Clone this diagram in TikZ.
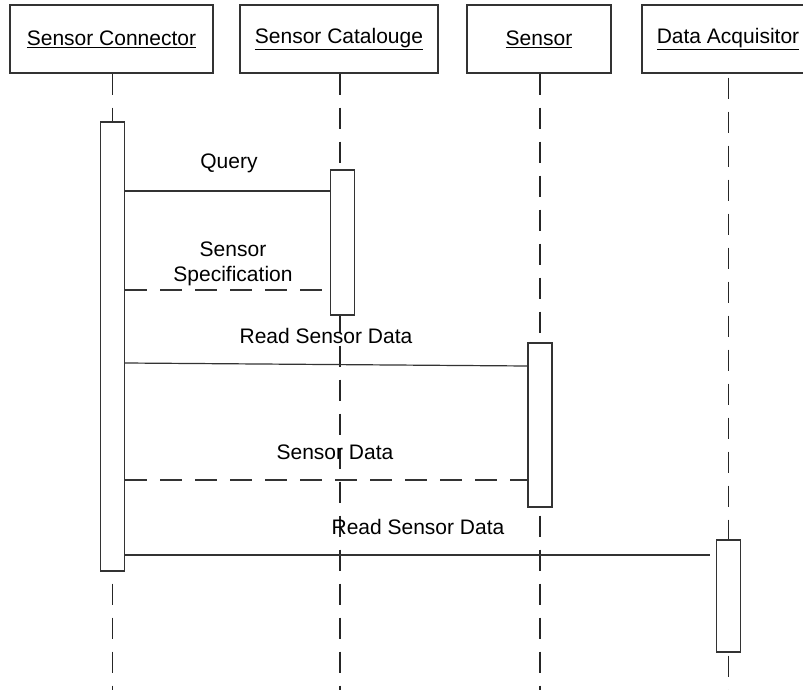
\documentclass[tikz,border=0pt]{standalone}
\usepackage{fontspec}
\setmainfont{Liberation Sans}
\usepackage{tikz}
\usetikzlibrary{positioning}

\begin{document}
\begin{tikzpicture}[x=1pt,y=-1pt,font=\fontsize{21}{25}\selectfont,
  obj/.style={draw=black!80,line width=1.2pt,minimum height=68pt,inner sep=0pt},
  act/.style={draw=black!80,fill=white,line width=1.2pt,minimum width=24pt,inner sep=0pt},
  life/.style={black!85,line width=1.2pt,dash pattern=on 21pt off 13pt},
  msg/.style={black!80,line width=1.2pt},
  reply/.style={msg,dash pattern=on 22pt off 13pt},
  lbl/.style={align=center,inner sep=0pt}]
\clip (0,0) rectangle (803,690);
\fill[white] (0,0) rectangle (803,690);

% objects
\node[obj,minimum width=203pt] (conn) at (111.5,39) {\underline{Sensor Connector}};
\node[obj,minimum width=198pt] (cat) at (339,39) {\underline{Sensor Catalouge}};
\node[obj,minimum width=144pt] (sens) at (539,39) {\underline{Sensor}};
\node[obj,minimum width=172pt] (dacq) at (728,39) {\underline{Data Acquisitor}};

% lifelines
\draw[life] (conn.south -| 112.5,0) -- (112.5,690);
\draw[life] (cat.south -| 340,0) -- (340,690);
\draw[life] (sens.south -| 540,0) -- (540,690);
\draw[life] ([yshift=-4pt]dacq.south -| 728.5,0) -- (728.5,690);

% activations
\node[act,minimum height=449pt] (connact) at (112.5,346.5) {};
\node[act,minimum height=145pt] (catact) at (342.5,242.5) {};
\node[act,minimum height=164pt] (sensact) at (540,425) {};
\node[act,minimum height=112pt] (dacqact) at (728.7,596) {};

% messages
\draw[msg] (connact.east |- 0,191) -- (catact.west |- 0,191);
\node[lbl] (q) at (229,163) {Query};
\draw[reply] (connact.east |- 0,290) -- (catact.west |- 0,290);
\node[lbl] (spec) at (233,264) {Sensor\\Specification};
\draw[msg] (connact.east |- 0,363) -- (sensact.west |- 0,366);
\node[lbl] (rd1) at (326,336) {Read Sensor Data};
\draw[reply] (connact.east |- 0,480) -- (sensact.west |- 0,480);
\node[lbl] (sd) at (335,452) {Sensor Data};
\draw[msg] (connact.east |- 0,555) -- ([xshift=-6pt]dacqact.west |- 0,555);
\node[lbl] (rd2) at (418,527) {Read Sensor Data};
\end{tikzpicture}
\end{document}
